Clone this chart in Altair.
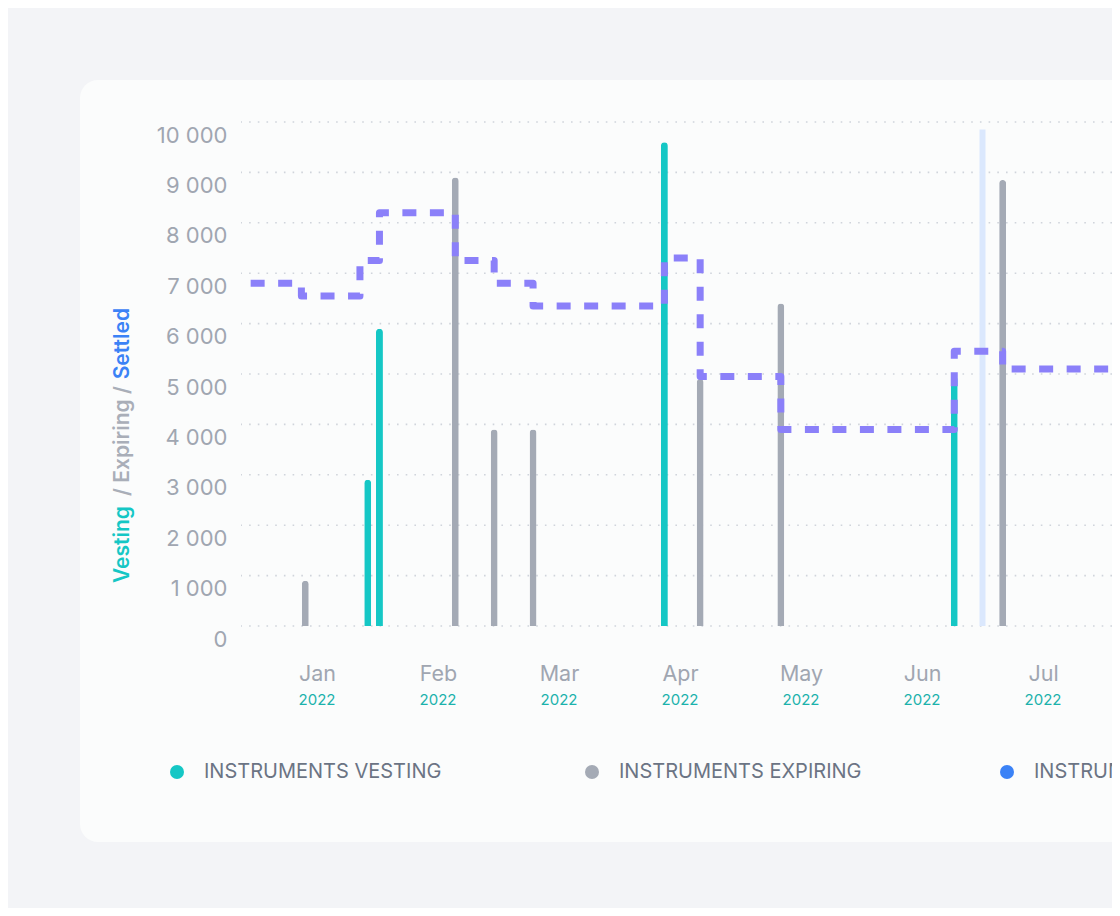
import calendar
import altair as alt
import pandas as pd

# ---------------- data ----------------
MONTHS = ["Jan", "Feb", "Mar", "Apr", "May", "Jun", "Jul"]
YEAR_LABEL = "2022"
Y_TICKS = [0, 1000, 2000, 3000, 4000, 5000, 6000, 7000, 8000, 9000, 10000]

SERIES = ["INSTRUMENTS VESTING", "INSTRUMENTS EXPIRING", "INSTRUMENTS SETTLED"]

vest_dates = ["2022-01-14", "2022-01-17", "2022-03-28", "2022-06-09"]
vest_values = [2900, 5900, 9600, 4950]

exp_dates = ["2021-12-29", "2022-02-05", "2022-02-14", "2022-02-23",
             "2022-04-06", "2022-04-26", "2022-06-21"]
exp_values = [900, 8900, 3900, 3900, 4900, 6400, 8850]

settled_dates = ["2022-06-16"]
settled_values = [9850]

step_dates = ["2021-12-15", "2021-12-28", "2022-01-12", "2022-01-17",
              "2022-02-05", "2022-02-14", "2022-02-23", "2022-03-28",
              "2022-04-06", "2022-04-26", "2022-06-09", "2022-06-21",
              "2022-07-20"]
step_values = [6800, 6550, 7250, 8200, 7250, 6800, 6350, 7300,
               4950, 3900, 5450, 5100, 5100]

# ---------------- style ----------------
TEAL = "#15c7c5"
GRAY = "#a4aab5"
BLUE = "#3b82f6"
SETTLED_FILL = "#dbe8fd"
PURPLE = "#8b80f9"
CARD = "#fbfcfc"
PAGE = "#f3f4f7"
LABEL = "#a0a6b1"
YEAR_COLOR = "#1bb2ac"
LEGEND_TEXT = "#6b7484"
FONT = "Inter"

PAD_L, PAD_T = 233, 114
CANVAS_W, CANVAS_H = 1104, 900
W, H = CANVAS_W - PAD_L, 504
PX_PER_MONTH = 121
JAN_X = 76


def month_pos(d):
    t = pd.Timestamp(d)
    dim = calendar.monthrange(t.year, t.month)[1]
    return (t.year - 2022) * 12 + (t.month - 1) + (t.day - 1) / dim


bar_df = pd.DataFrame({
    "series": [SERIES[0]] * len(vest_dates) + [SERIES[1]] * len(exp_dates),
    "date": vest_dates + exp_dates,
    "v": vest_values + exp_values,
})
bar_df["m"] = bar_df["date"].map(month_pos)

hl_df = pd.DataFrame({"date": settled_dates, "v": settled_values})
hl_df["m"] = hl_df["date"].map(month_pos)

step_df = pd.DataFrame({"date": step_dates, "v": step_values})
step_df["m"] = step_df["date"].map(month_pos)

year_df = pd.DataFrame({"m": list(range(len(MONTHS))), "t": [YEAR_LABEL] * len(MONTHS)})
grid_df = pd.DataFrame({"v": Y_TICKS})
one = pd.DataFrame({"k": [0]})

x_scale = alt.Scale(domain=[-JAN_X / PX_PER_MONTH, (W - JAN_X) / PX_PER_MONTH],
                    nice=False, zero=False, padding=0)
y_scale = alt.Scale(domain=[0, 10000], nice=False, padding=0)

month_expr = "[" + ",".join("'%s'" % m for m in MONTHS) + "][datum.value]"
x_axis = alt.Axis(values=list(range(len(MONTHS))), labelExpr=month_expr, title=None,
                  domain=False, ticks=False, grid=False, labelFontSize=21.5,
                  labelColor=LABEL, labelPadding=37, labelFlush=False,
                  labelFont=FONT, zindex=1)
y_axis = alt.Axis(values=Y_TICKS, labelExpr="replace(format(datum.value, ','), ',', ' ')",
                  title=None, domain=False, ticks=False, grid=False, labelFontSize=22,
                  labelColor=LABEL, labelPadding=14, labelOffset=13,
                  labelOverlap=False, labelFont=FONT, zindex=1)

X = alt.X("m:Q", scale=x_scale, axis=x_axis)
Y = alt.Y("v:Q", scale=y_scale, axis=y_axis)

card = alt.Chart(one).mark_rect(color=CARD, cornerRadius=18).encode(
    x=alt.value(-161), x2=alt.value(W + 60), y=alt.value(-42), y2=alt.value(720))

grid = alt.Chart(grid_df).mark_rule(color="#d0d4db", strokeWidth=1.6,
                                   strokeDash=[1.6, 7.1]).encode(y=Y)

highlight = alt.Chart(hl_df).mark_bar(width=6, color=SETTLED_FILL).encode(x=X, y=Y)

bars = alt.Chart(bar_df).mark_bar(width=7, cornerRadiusTopLeft=3.5,
                                  cornerRadiusTopRight=3.5).encode(
    x=X, y=Y,
    color=alt.Color("series:N",
                    scale=alt.Scale(domain=SERIES, range=[TEAL, GRAY, BLUE]),
                    legend=alt.Legend(title=None, orient="none", legendX=-74, legendY=640,
                                      direction="horizontal", columns=3, gridAlign="all",
                                      columnPadding=135, symbolType="circle",
                                      symbolSize=196, symbolStrokeWidth=0,
                                      labelFontSize=20, labelColor=LEGEND_TEXT,
                                      labelFont=FONT, labelOffset=17, labelLimit=500,
                                      padding=0, zindex=1)))

line = alt.Chart(step_df).mark_line(interpolate="step-after", color=PURPLE, strokeWidth=7,
                                    strokeDash=[14, 13.5], strokeJoin="round",
                                    strokeCap="butt").encode(x=X, y=Y)

years = alt.Chart(year_df).mark_text(fontSize=15, color=YEAR_COLOR, font=FONT,
                                     baseline="middle").encode(
    x=X, y=alt.value(578), text="t:N")

title_common = dict(angle=270, baseline="middle", font=FONT, fontSize=21, fontWeight=600)
t1 = alt.Chart(one).mark_text(align="left", color=TEAL, **title_common).encode(
    x=alt.value(-118), y=alt.value(461), text=alt.value("Vesting"))
t2 = alt.Chart(one).mark_text(align="center", color="#a9aeb8", **title_common).encode(
    x=alt.value(-118), y=alt.value(319), text=alt.value("/ Expiring /"))
t3 = alt.Chart(one).mark_text(align="right", color=BLUE, **title_common).encode(
    x=alt.value(-118), y=alt.value(186), text=alt.value("Settled"))

chart = alt.layer(card, grid, highlight, bars, line, years, t1, t2, t3).properties(
    width=W, height=H,
    autosize=alt.AutoSizeParams(type="none"),
    padding={"left": PAD_L, "top": PAD_T, "right": 0,
             "bottom": CANVAS_H - PAD_T - H},
    background=PAGE,
).configure_view(stroke=None).configure(font=FONT)

chart.save("out.html", embed_options={"renderer": "svg", "actions": False})
